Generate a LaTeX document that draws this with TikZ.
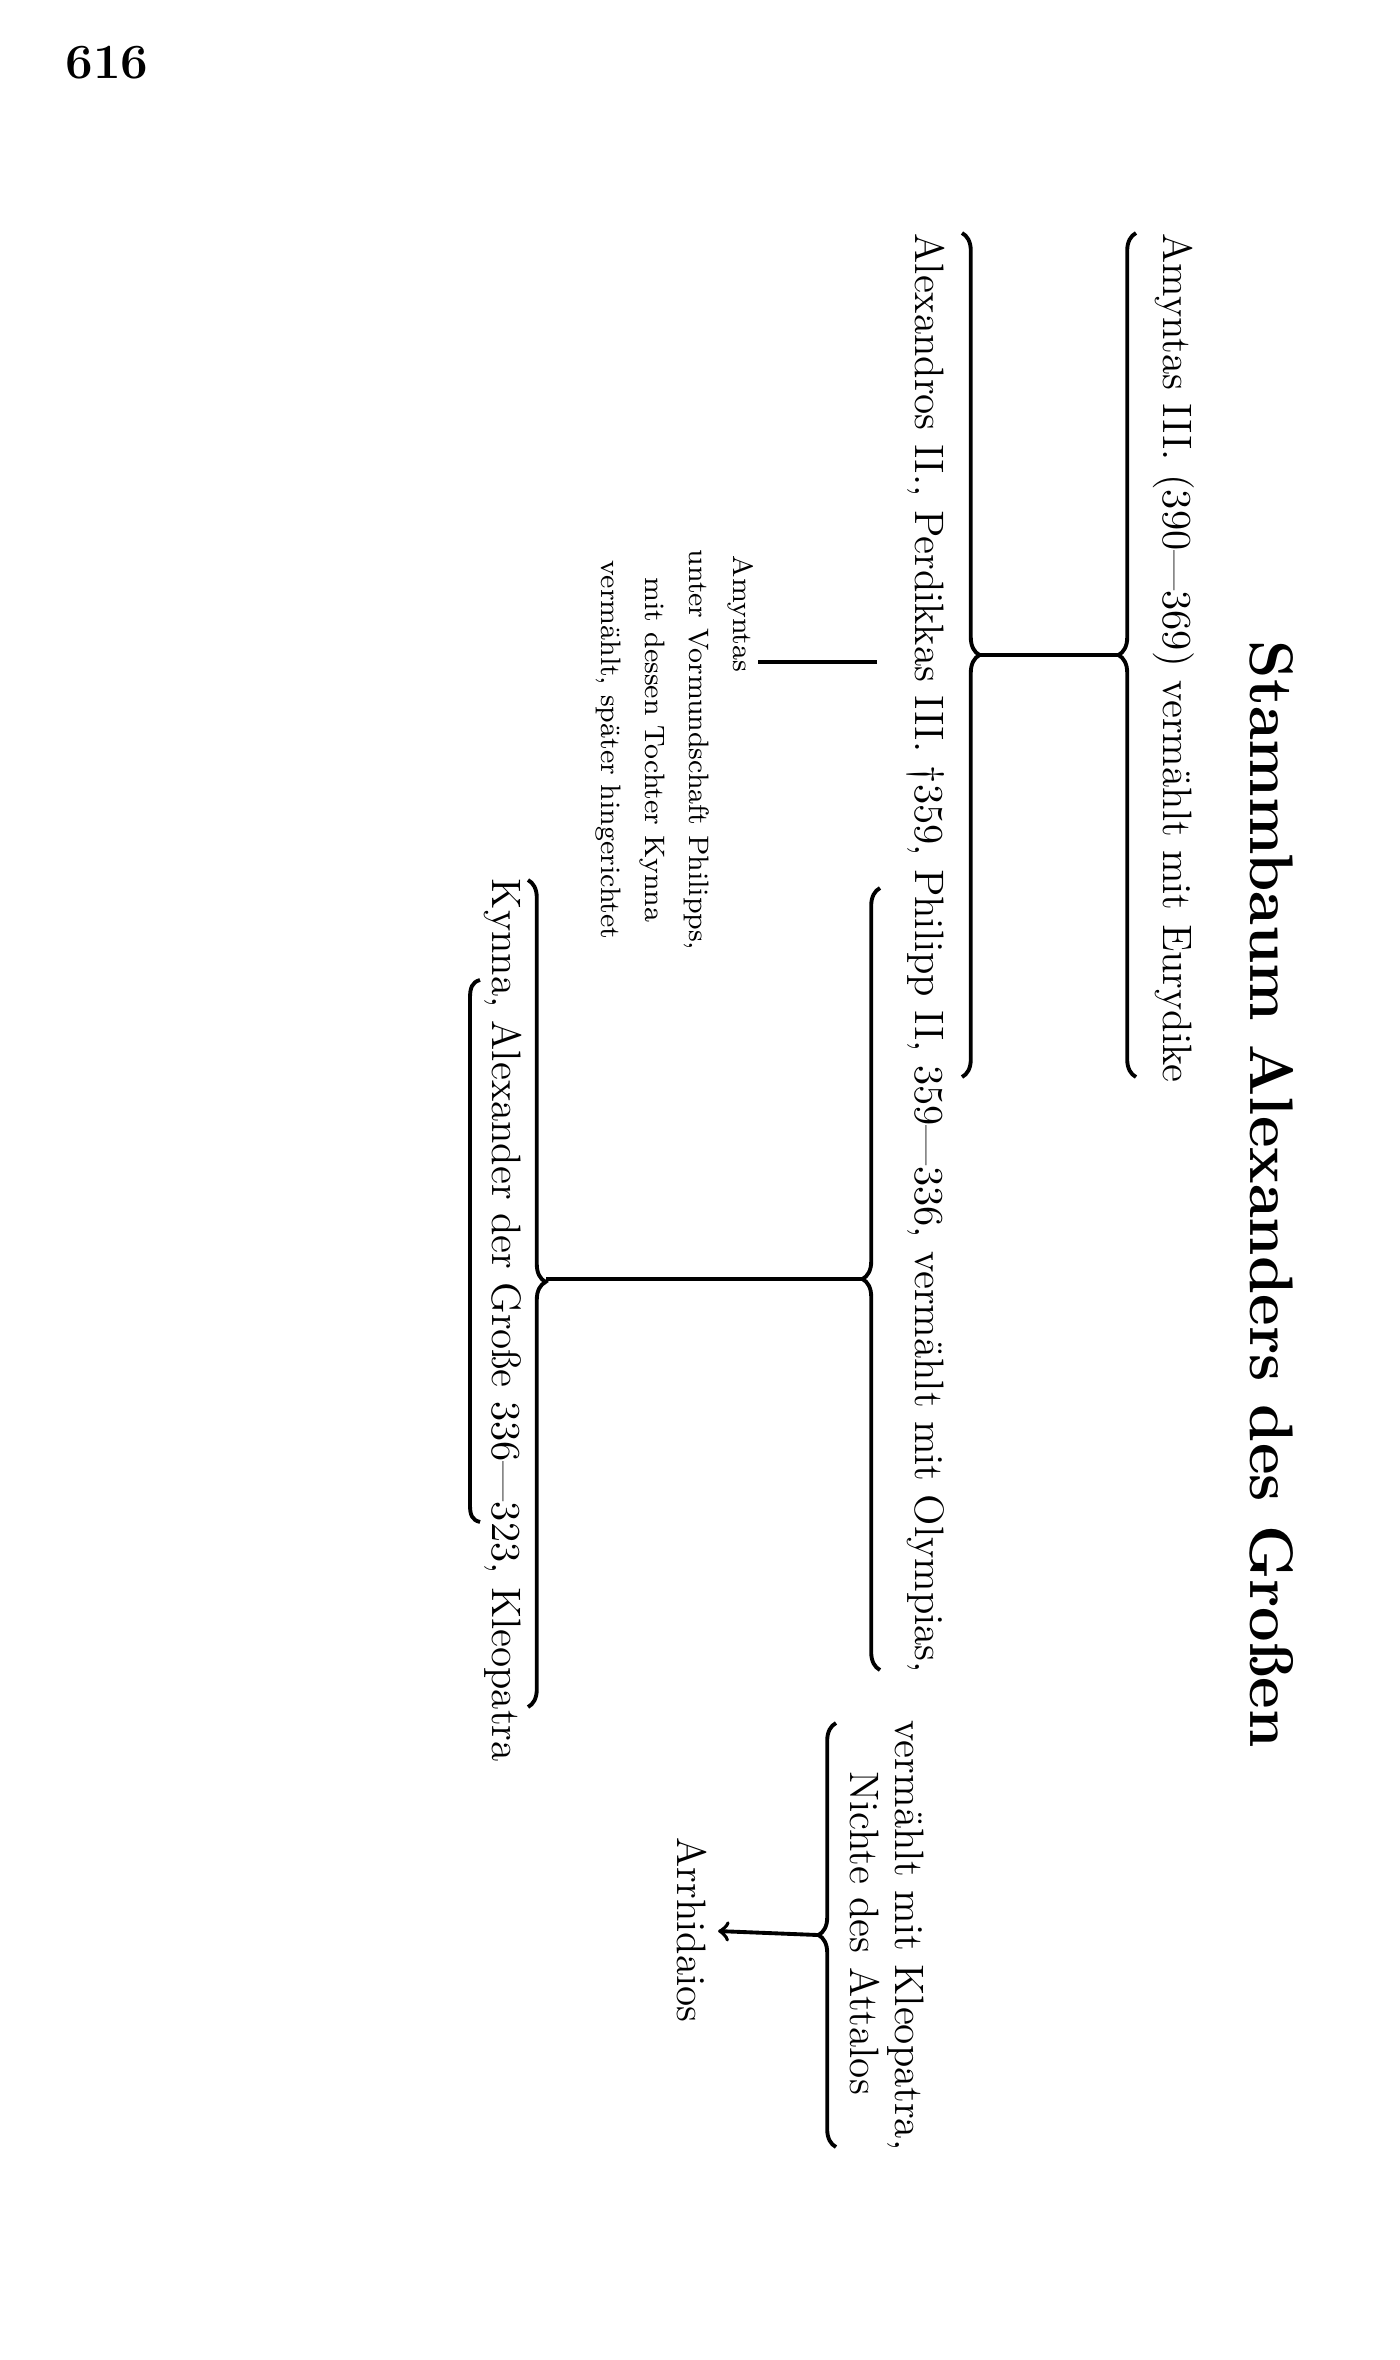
\documentclass[tikz,border=0pt]{standalone}
\usetikzlibrary{decorations.pathreplacing}
\tikzset{
	zeile/.style={rotate=-90,anchor=base west,inner sep=0pt,font=\fontsize{11.7}{13}\selectfont},
	klammer/.style={line width=1.1pt,decorate,decoration={brace,amplitude=5pt}},
	strich/.style={line width=1.1pt}
}
\begin{document}
\begin{tikzpicture}
	\useasboundingbox (0,0) rectangle (13.99,-23.60);
	%page number
	\node[font=\bfseries\fontsize{14}{14}\selectfont] (seite) at (1.07,-0.63) {616};
	%title
	\node[zeile,anchor=west,font=\bfseries\fontsize{17.5}{18}\selectfont] (titel) at (12.72,-6.40) {Stammbaum Alexanders des Großen};
	%generations
	\foreach \Punkt/\Name/\Text in {(11.63,-2.33)/amyntas/{Amyntas III. (390—369) vermählt mit Eurydike},
		(9.15,-2.33)/philipp/{Alexandros II., Perdikkas III. †359, Philipp II, 359—336, vermählt mit Olympias,},
		(8.95,-17.20)/kleopatra/{vermählt mit Kleopatra,},
		(4.92,-8.78)/alexander/{Kynna, Alexander der Große 336—323, Kleopatra}}%
	\node[zeile] (\Name) at \Punkt {\Text} ;
	\node[zeile,anchor=base] (nichte) at (8.50,-19.33) {Nichte des Attalos};
	\node[zeile,anchor=center,inner sep=3pt] (arrhidaios) at (6.92,-19.30) {Arrhidaios};
	\node[zeile,anchor=center,align=center,font=\fontsize{8}{12.5}\selectfont] (vormund) at (6.75,-7.50) {Amyntas\hspace*{2.72cm}\\unter Vormundschaft Philipps,\\mit dessen Tochter Kynna\\vermählt, später hingerichtet};
	%braces
	\draw[klammer] (11.36,-10.77) -- (11.36,-2.33);
	\draw[klammer] (9.62,-2.33) -- (9.62,-10.77);
	\draw[klammer] (8.80,-16.70) -- (8.80,-8.88);
	\draw[klammer,decoration={aspect=0.486}] (5.28,-8.80) -- (5.28,-17.07);
	\draw[klammer] (8.36,-21.47) -- (8.36,-17.23);
	%links
	\coordinate (k1) at (11.18,-6.55);
	\coordinate (k2) at (9.80,-6.55);
	\coordinate (k3) at (8.62,-12.79);
	\coordinate (k4) at (5.46,-12.79);
	\coordinate (k5) at (8.18,-19.35);
	\coordinate (perdikkas) at (8.77,-6.62);
	\coordinate (vormundende) at (7.58,-6.62);
	\draw[strich] (k1)--(k2) ;
	\draw[strich] (k3)--(k4) ;
	\draw[strich] (perdikkas)--(vormundende) ;
	\draw[strich,->] (k5)--(arrhidaios) ;
	%underline
	\draw[strich] (4.80,-9.80) .. controls (4.72,-9.82) and (4.70,-9.88) .. (4.70,-9.98) -- (4.70,-15.05) .. controls (4.70,-15.15) and (4.72,-15.20) .. (4.80,-15.22);
\end{tikzpicture}
\end{document}
